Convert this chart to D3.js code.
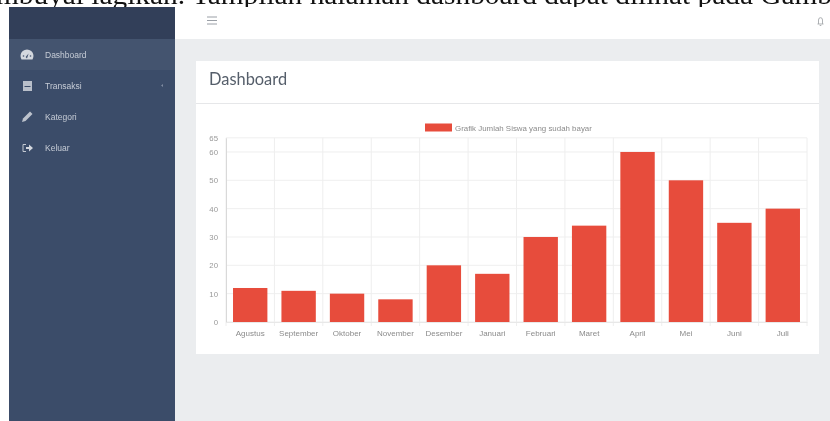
<!DOCTYPE html>
<html lang="en">
    <head>
        <meta charset="utf-8">
        <title>Dashboard</title>
        <script src="https://d3js.org/d3.v7.min.js"></script>
        <style type="text/css">
          html, body { margin: 0; padding: 0; background: #fff; overflow: hidden; }
          svg { display: block; filter: blur(0.35px); }
          text { font-family: "Liberation Sans", Arial, sans-serif; }
        </style>
    </head>
    <body>
        <svg width="830" height="421"></svg>
        <script type="text/javascript">
            const months = ["Agustus","September","Oktober","November","Desember","Januari","Februari","Maret","April","Mei","Juni","Juli"];
            const siswa = [12, 11, 10, 8, 20, 17, 30, 34, 60, 50, 35, 40];
            const yTicks = [0, 10, 20, 30, 40, 50, 60, 65];
            const menuItems = ["Dashboard", "Transaksi", "Kategori", "Keluar"];
            const legendLabel = "Grafik Jumlah Siswa yang sudah bayar";
            const caption = "mbuyai lagikan. Tampilan halaman dashboard dapat dilihat pada Gamb";

            const svg = d3.select("svg");

            //Page background and the line of document text cut off above the screenshot
            svg.append("rect").attr("width", 830).attr("height", 421).attr("fill", "#fff");
            svg.append("text")
               .attr("x", -4).attr("y", 4)
               .attr("textLength", 836)
               .attr("lengthAdjust", "spacingAndGlyphs")
               .style("font-family", "Liberation Serif")
               .style("font-size", "27px")
               .attr("fill", "#111")
               .text(caption);

            //Content area and top bar
            svg.append("rect").attr("x", 175).attr("y", 39).attr("width", 655).attr("height", 382).attr("fill", "#ebedef");
            svg.append("rect").attr("x", 175).attr("y", 7).attr("width", 655).attr("height", 32).attr("fill", "#fff");

            //Hamburger
            svg.append("g").selectAll("line").data([0, 1, 2]).enter().append("line")
               .attr("x1", 207).attr("x2", 217)
               .attr("y1", d => 17 + d * 3.5).attr("y2", d => 17 + d * 3.5)
               .attr("stroke", "#9a9fa6").attr("stroke-width", 1);

            //Bell
            svg.append("path")
               .attr("d", "M817.5,24 h6 M818.5,24 v-4 a2,2.3 0 0 1 4,0 v4 M819.7,25.5 h1.6")
               .attr("fill", "none").attr("stroke", "#a5a8ac").attr("stroke-width", 0.9);

            //Sidebar
            svg.append("rect").attr("x", 9).attr("y", 7).attr("width", 166).attr("height", 414).attr("fill", "#3b4c69");
            svg.append("rect").attr("x", 9).attr("y", 7).attr("width", 166).attr("height", 32).attr("fill", "#323f59");
            svg.append("rect").attr("x", 9).attr("y", 39).attr("width", 166).attr("height", 31).attr("fill", "#44546f");

            const menu = svg.append("g").selectAll("g").data(menuItems).enter().append("g")
               .attr("transform", (d, i) => `translate(0,${54.5 + i * 31})`);
            menu.append("text")
               .attr("x", 45).attr("y", 3)
               .attr("font-size", 8.5)
               .attr("fill", "#c6ccd6")
               .text(d => d);

            //Menu icons
            const icons = svg.append("g").attr("fill", "#d3d7de");
            icons.append("path").attr("d", "M21.5,59.5 a6.5,6.5 0 1 1 11,0 z");
            icons.append("path").attr("d", "M27,58.5 l1.6,-5 l-3,3.5 z").attr("fill", "#44546f");
            icons.append("circle").attr("cx", 23.5).attr("cy", 56).attr("r", 0.8).attr("fill", "#44546f");
            icons.append("circle").attr("cx", 30.5).attr("cy", 56).attr("r", 0.8).attr("fill", "#44546f");
            icons.append("rect").attr("x", 23).attr("y", 81).attr("width", 9).attr("height", 10).attr("fill", "#b9bfca");
            icons.append("rect").attr("x", 24.5).attr("y", 86).attr("width", 6).attr("height", 1).attr("fill", "#3b4c69");
            icons.append("path").attr("d", "M22,122 l1,-3.5 l7,-7 l2.5,2.5 l-7,7 z").attr("fill", "#bcc2cc");
            icons.append("path").attr("d", "M26,144.5 h-3 v7 h3").attr("fill", "none").attr("stroke", "#c3c8d1");
            icons.append("path").attr("d", "M26,147 h3 v-2.5 l4,3.5 l-4,3.5 v-2.5 h-3 z");
            svg.append("path").attr("d", "M163,84 l-2,1.5 l2,1.5 z").attr("fill", "#7f8ba0");

            //Card
            svg.append("rect").attr("x", 196).attr("y", 61).attr("width", 623).attr("height", 293).attr("fill", "#fff");
            svg.append("line").attr("x1", 196).attr("x2", 819).attr("y1", 103.5).attr("y2", 103.5).attr("stroke", "#e6e7e9");
            svg.append("text")
               .attr("x", 209).attr("y", 85)
               .style("font-family", "Lato")
               .attr("font-size", 16.4)
               .attr("fill", "#555e6a")
               .text("Dashboard");

            //Scales
            const x = d3.scaleBand().domain(months).range([226, 807]).paddingInner(0.29).paddingOuter(0.145);
            const y = d3.scaleLinear().domain([0, 65]).range([322, 137.8]);

            //Grid
            svg.append("g").selectAll("line").data(yTicks).enter().append("line")
               .attr("x1", 226).attr("x2", 807)
               .attr("y1", d => y(d)).attr("y2", d => y(d))
               .attr("stroke", "#efefef");
            svg.append("g").selectAll("line").data(d3.range(months.length + 1)).enter().append("line")
               .attr("x1", d => 226 + d * (581 / months.length)).attr("x2", d => 226 + d * (581 / months.length))
               .attr("y1", y(65)).attr("y2", y(0) + 4)
               .attr("stroke", "#eeeeee");

            //Axes
            const yAxis = d3.axisLeft(y).tickValues(yTicks).tickSize(0).tickPadding(8);
            const xAxis = d3.axisBottom(x).tickSize(0).tickPadding(8);
            const gy = svg.append("g").attr("transform", "translate(226,0)").call(yAxis);
            const gx = svg.append("g").attr("transform", "translate(0,322)").call(xAxis);
            gy.select(".domain").attr("stroke", "#d9d9d9");
            gx.select(".domain").attr("stroke", "#e8e8e8");
            gy.selectAll("text").attr("font-size", 7.8).attr("fill", "#999").style("font-family", "Liberation Sans");
            gx.selectAll("text").attr("font-size", 8).attr("fill", "#8b8b8b").style("font-family", "Liberation Sans");

            //Bars
            svg.append("g").selectAll("rect").data(siswa).enter().append("rect")
               .attr("x", (d, i) => x(months[i]))
               .attr("width", x.bandwidth())
               .attr("y", d => y(d))
               .attr("height", d => y(0) - y(d))
               .attr("fill", "#e74c3c");

            //Legend
            svg.append("rect").attr("x", 425).attr("y", 123.5).attr("width", 27).attr("height", 8).attr("fill", "#e74c3c");
            svg.append("text")
               .attr("x", 455).attr("y", 130.5)
               .attr("font-size", 7.9)
               .attr("fill", "#8b8b8b")
               .text(legendLabel);
        </script>
    </body>
</html>
